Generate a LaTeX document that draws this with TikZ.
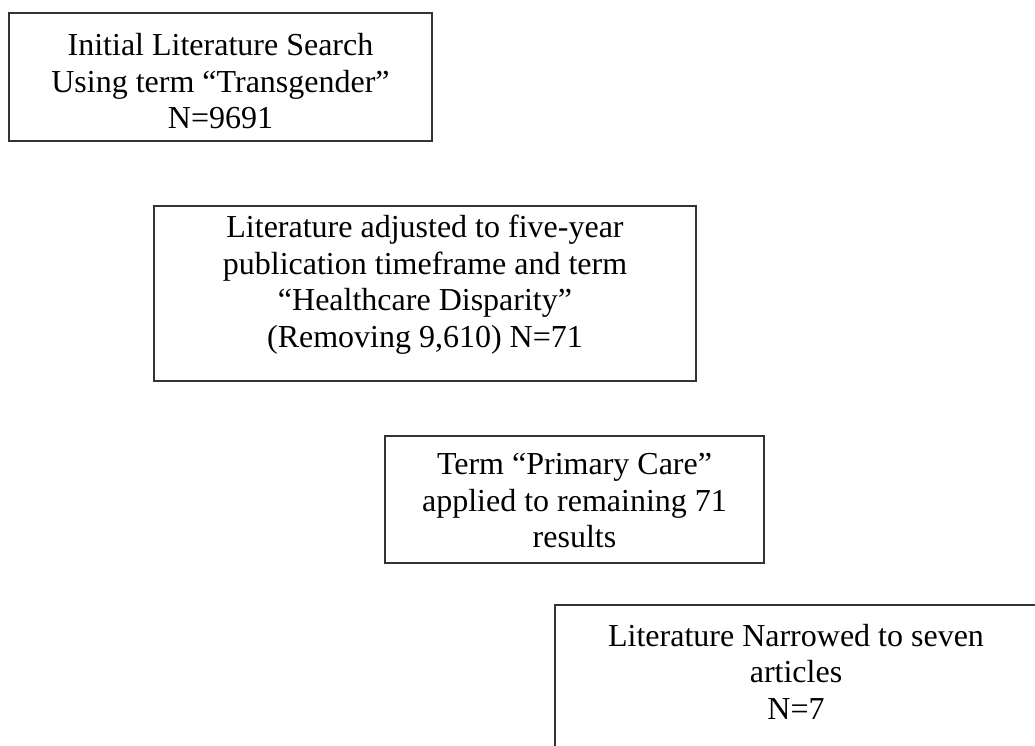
\documentclass[tikz,border=0pt]{standalone}
\usepackage{fontspec}
\setmainfont{Liberation Serif}
\begin{document}
\begin{tikzpicture}[x=1pt,y=-1pt,
  stepbox/.style={draw=black!80, line width=1.1pt, inner sep=0pt, outer sep=0pt, anchor=north west},
  boxtext/.style={align=center, inner sep=0pt, anchor=north, font=\fontsize{32}{36.5}\selectfont}]
\useasboundingbox (0,0) rectangle (1035,745);
\fill[white] (0,0) rectangle (1035,745);
% boxes
\node[stepbox, minimum width=423pt, minimum height=128pt] (b1) at (9,13) {};
\node[stepbox, minimum width=542pt, minimum height=175pt] (b2) at (154,206) {};
\node[stepbox, minimum width=379pt, minimum height=127pt] (b3) at (385,436) {};
\node[stepbox, minimum width=490pt, minimum height=150pt] (b4) at (555,605) {};
% texts
\node[boxtext] (t1) at (220.5,33.1) {Initial Literature Search\\Using term “Transgender”\\N=9691};
\node[boxtext] (t2) at (425,215.1) {Literature adjusted to five-year\\publication timeframe and term\\“Healthcare Disparity”\\(Removing 9,610) N=71};
\node[boxtext] (t3) at (574.5,453.1) {Term “Primary Care”\\applied to remaining 71\\results};
\node[boxtext] (t4) at (796,624) {Literature Narrowed to seven\\articles\\N=7};
\end{tikzpicture}
\end{document}
